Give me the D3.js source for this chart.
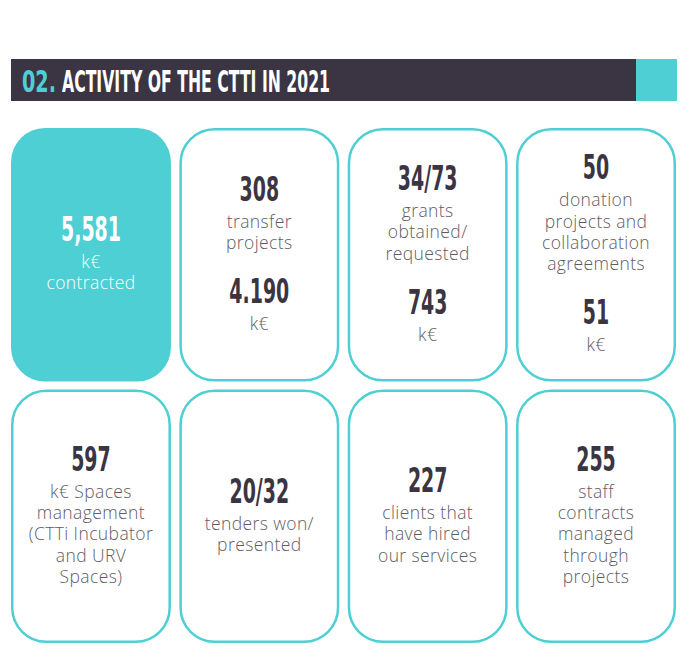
<!DOCTYPE html>
<html>
<head>
    <meta charset="utf-8">
    <title>Activity of the CTTI in 2021</title>
    <script src="https://cdn.jsdelivr.net/npm/d3@7"></script>
    <style>
        body { margin: 0; background: #fff; }
        .big { font-family: "DejaVu Sans Condensed", "DejaVu Sans", sans-serif; font-weight: bold; }
        .lbl { font-family: "Open Sans", Lato, sans-serif; font-weight: 300; letter-spacing: 0.4px; }
    </style>
</head>
<body>
    <div id="chart"></div>
    <script>
        // header text
        const headNumber = "02.";
        const headTitle = "ACTIVITY OF THE CTTI IN 2021";

        // figures shown in the cards (row by row)
        const mainFigures = ["5,581", "308", "34/73", "50", "597", "20/32", "227", "255"];
        const mainLabels = [
            ["k€", "contracted"],
            ["transfer", "projects"],
            ["grants", "obtained/", "requested"],
            ["donation", "projects and", "collaboration", "agreements"],
            ["k€ Spaces", "management", "(CTTi Incubator", "and URV", "Spaces)"],
            ["tenders won/", "presented"],
            ["clients that", "have hired", "our services"],
            ["staff", "contracts", "managed", "through", "projects"]
        ];
        const secondFigures = [null, "4.190", "743", "51", null, null, null, null];
        const secondLabels = [null, ["k€"], ["k€"], ["k€"], null, null, null, null];
        const highlighted = [true, false, false, false, false, false, false, false];

        const W = 681, H = 660;
        const teal = "#4ecfd4", dark = "#3b3543", grey = "#5f5b66";

        const svg = d3.select("#chart").append("svg")
            .attr("width", W).attr("height", H);

        // header bar
        svg.append("rect").attr("x", 11).attr("y", 59).attr("width", 625).attr("height", 42).attr("fill", dark);
        svg.append("rect").attr("x", 636).attr("y", 59).attr("width", 41).attr("height", 42).attr("fill", teal);
        svg.append("text").attr("class", "big")
            .attr("x", 22).attr("y", 92).attr("font-size", 31)
            .attr("textLength", 34).attr("lengthAdjust", "spacingAndGlyphs")
            .attr("fill", teal).text(headNumber);
        svg.append("text").attr("class", "big")
            .attr("x", 62).attr("y", 92).attr("font-size", 31)
            .attr("textLength", 268).attr("lengthAdjust", "spacingAndGlyphs")
            .attr("fill", "#fff").text(headTitle);

        // how wide one digit is, to squeeze the numbers to a condensed look
        const probe = svg.append("text").attr("class", "big").attr("font-size", 34).text("0000000000");
        const digitW = probe.node().getComputedTextLength() / 10;
        probe.remove();
        const squeeze = 13.2 / digitW;

        const x = d3.scaleBand().domain(d3.range(4)).range([11, 676]).paddingInner(0.05);
        const y = d3.scaleBand().domain(d3.range(2)).range([128, 643]).paddingInner(0.03);

        mainFigures.forEach((fig, i) => {
            const col = i % 4, row = Math.floor(i / 4);
            const hl = highlighted[i];
            const cx = x(col) + x.bandwidth() / 2;
            const g = svg.append("g");

            g.append("rect")
                .attr("x", x(col) + (hl ? 0 : 1.25)).attr("y", y(row) + (hl ? 0 : 1.25))
                .attr("width", x.bandwidth() - (hl ? 0 : 2.5)).attr("height", y.bandwidth() - (hl ? 0 : 2.5))
                .attr("rx", 34).attr("ry", 34)
                .attr("fill", hl ? teal : "#fff")
                .attr("stroke", teal).attr("stroke-width", hl ? 0 : 2.5);

            // stack of lines: [kind, text, offset from previous baseline]
            const items = [["big", fig, 0]];
            mainLabels[i].forEach((t, j) => items.push(["lbl", t, j === 0 ? 27 : 21.3]));
            if (secondFigures[i]) {
                items.push(["big", secondFigures[i], 54]);
                secondLabels[i].forEach((t, j) => items.push(["lbl", t, j === 0 ? 27 : 21.3]));
            }
            let b = 0;
            items.forEach(it => { b += it[2]; it.push(b); });
            const blockH = 25 + b;
            const top = y(row) + y.bandwidth() / 2 - 2 - blockH / 2;

            items.forEach(it => {
                const base = top + 25 + it[3];
                if (it[0] === "big") {
                    g.append("text").attr("class", "big")
                        .attr("transform", `translate(${cx},${base}) scale(${squeeze},1)`)
                        .attr("text-anchor", "middle")
                        .attr("font-size", 34)
                        .attr("fill", hl ? "#fff" : dark)
                        .text(it[1]);
                } else {
                    g.append("text").attr("class", "lbl")
                        .attr("x", cx).attr("y", base)
                        .attr("text-anchor", "middle")
                        .attr("font-size", 17.5)
                        .attr("fill", hl ? "#fff" : grey)
                        .text(it[1]);
                }
            });
        });
    </script>
</body>
</html>
